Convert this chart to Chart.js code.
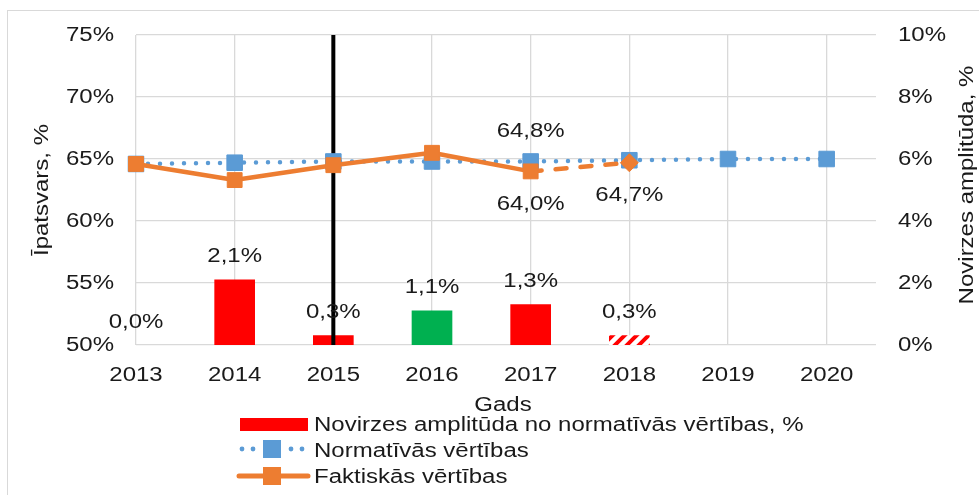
<!DOCTYPE html>
<html>
<head>
<meta charset="utf-8">
<script src="https://cdn.jsdelivr.net/npm/chart.js@4"></script>
<style>
    body { margin: 0; background: #fff; }
    #wrap { position: relative; width: 979px; height: 495px; overflow: hidden; }
    #frame { position: absolute; left: 7px; top: 10px; width: 1000px; height: 500px;
             border-left: 1px solid #d9d9d9; border-top: 1px solid #d9d9d9; }
    canvas { position: absolute; left: 0; top: 0; }
</style>
</head>
<body>
<div id="wrap">
    <div id="frame"></div>
    <canvas id="chart" width="979" height="495"></canvas>
</div>
<script>
// Data
const years = [2013, 2014, 2015, 2016, 2017, 2018, 2019, 2020];
const deviation = [0.0, 2.1, 0.3, 1.1, 1.3, 0.3];          // % (right axis)
const normative = [64.6, 64.7, 64.8, 64.8, 64.8, 64.9, 65.0, 65.0];
const actual = [64.6, 63.3, 64.5, 65.5, 64.0, 64.7];
const leftTicks = [50, 55, 60, 65, 70, 75];
const rightTicks = [0, 2, 4, 6, 8, 10];
const MARKER_YEAR = 2015;
const normLabelIdx = [4];
const actualLabelIdx = [4, 5];

const RED = '#FF0000';
const GREEN = '#00B050';
const BLUE = '#5B9BD5';
const ORANGE = '#ED7D31';
const FONT = '"Liberation Sans", Arial, sans-serif';
const TXT = '#1a1a1a';
const STRETCH = 1.2;   // the source text is set wider than plain Arial

Chart.defaults.font.family = FONT;
Chart.defaults.font.size = 20;
Chart.defaults.color = TXT;

// hatched fill for the forecast bar
function makeHatch() {
    const c = document.createElement('canvas');
    c.width = 12; c.height = 12;
    const g = c.getContext('2d');
    g.fillStyle = '#fff';
    g.fillRect(0, 0, 12, 12);
    g.strokeStyle = RED;
    g.lineWidth = 4;
    g.beginPath();
    g.moveTo(-3, 15); g.lineTo(15, -3);
    g.moveTo(-9, 9); g.lineTo(9, -9);
    g.moveTo(3, 21); g.lineTo(21, 3);
    g.stroke();
    return g.createPattern(c, 'repeat');
}
const hatch = makeHatch();
const barColors = [RED, RED, RED, GREEN, RED, hatch];

const fmt = v => v.toFixed(1).replace('.', ',') + '%';
const toPts = arr => arr.map((v, i) => ({ x: years[i], y: v }));

function text(ctx, str, x, y, align, rot) {
    ctx.save();
    ctx.translate(x, y);
    if (rot) ctx.rotate(rot);
    ctx.scale(STRETCH, 1);
    ctx.textAlign = align;
    ctx.fillText(str, 0, 0);
    ctx.restore();
}

// Tick labels, data labels, axis titles, marker line and legend
const decorPlugin = {
    id: 'decor',
    afterDatasetDraw(chart, args) {
        if (args.index !== 0) return;
        const ctx = chart.ctx;
        const xs = chart.scales.x.getPixelForValue(MARKER_YEAR);
        ctx.save();
        ctx.strokeStyle = '#000';
        ctx.lineWidth = 4;
        ctx.beginPath();
        ctx.moveTo(xs, chart.chartArea.top);
        ctx.lineTo(xs, chart.chartArea.bottom);
        ctx.stroke();
        ctx.restore();
    },
    afterDraw(chart) {
        const ctx = chart.ctx;
        const { x, y, y2 } = chart.scales;
        const area = chart.chartArea;
        ctx.save();
        ctx.font = '20px ' + FONT;
        ctx.fillStyle = TXT;
        ctx.textBaseline = 'middle';

        // tick labels
        y.ticks.forEach(t => text(ctx, t.value + '%', area.left - 22, y.getPixelForValue(t.value), 'right'));
        y2.ticks.forEach(t => text(ctx, t.value + '%', area.right + 22, y2.getPixelForValue(t.value), 'left'));
        x.ticks.forEach(t => text(ctx, String(t.value), x.getPixelForValue(t.value), area.bottom + 30, 'center'));

        // bar labels
        chart.getDatasetMeta(0).data.forEach((el, i) => {
            text(ctx, fmt(deviation[i]), el.x, el.y - 23, 'center');
        });
        // line labels
        const nMeta = chart.getDatasetMeta(1).data;
        normLabelIdx.forEach(i => text(ctx, fmt(normative[i]), nMeta[i].x, nMeta[i].y - 30, 'center'));
        const aMeta = chart.getDatasetMeta(2).data;
        actualLabelIdx.forEach(i => text(ctx, fmt(actual[i]), aMeta[i].x, aMeta[i].y + 33, 'center'));

        // axis titles
        text(ctx, 'Īpatsvars, %', 42, 190, 'center', -Math.PI / 2);
        text(ctx, 'Novirzes amplitūda, %', 967, 185, 'center', -Math.PI / 2);

        // x title
        ctx.textBaseline = 'alphabetic';
        text(ctx, 'Gads', 503, 411, 'center');

        // legend
        text(ctx, 'Novirzes amplitūda no normatīvās vērtības, %', 314, 431, 'left');
        text(ctx, 'Normatīvās vērtības', 314, 457, 'left');
        text(ctx, 'Faktiskās vērtības', 314, 483, 'left');

        ctx.fillStyle = RED;
        ctx.fillRect(240, 418, 68, 13);

        ctx.fillStyle = BLUE;
        [242, 253, 291, 302].forEach(px => {
            ctx.beginPath();
            ctx.arc(px, 449, 2.4, 0, Math.PI * 2);
            ctx.fill();
        });
        ctx.fillRect(263, 440, 18, 18);

        ctx.strokeStyle = ORANGE;
        ctx.lineWidth = 5;
        ctx.lineCap = 'round';
        ctx.beginPath();
        ctx.moveTo(239, 476);
        ctx.lineTo(308, 476);
        ctx.stroke();
        ctx.fillStyle = ORANGE;
        ctx.fillRect(263, 467, 18, 18);
        ctx.restore();
    }
};

new Chart(document.getElementById('chart'), {
    type: 'bar',
    data: {
        datasets: [
            {
                type: 'bar',
                label: 'Novirzes amplitūda no normatīvās vērtības, %',
                data: toPts(deviation),
                backgroundColor: c => deviation[c.dataIndex] === 0 ? 'rgba(0,0,0,0)' : barColors[c.dataIndex],
                barThickness: 40,
                yAxisID: 'y2',
                order: 3
            },
            {
                type: 'line',
                label: 'Normatīvās vērtības',
                data: toPts(normative),
                borderColor: BLUE,
                backgroundColor: BLUE,
                borderWidth: 4.5,
                borderDash: [0, 12],
                borderCapStyle: 'round',
                pointStyle: 'rect',
                pointRadius: 11,
                pointBorderWidth: 1,
                pointBorderColor: BLUE,
                yAxisID: 'y',
                clip: false,
                order: 2
            },
            {
                type: 'line',
                label: 'Faktiskās vērtības',
                data: toPts(actual),
                borderColor: ORANGE,
                backgroundColor: ORANGE,
                borderWidth: 4.5,
                borderCapStyle: 'round',
                borderJoinStyle: 'round',
                pointStyle: ['rect', 'rect', 'rect', 'rect', 'rect', 'rectRot'],
                pointRadius: [10.5, 10.5, 10.5, 10.5, 10.5, 9],
                pointBorderWidth: 1,
                pointBorderColor: ORANGE,
                segment: {
                    borderDash: c => c.p1DataIndex === actual.length - 1 ? [11, 14] : undefined
                },
                yAxisID: 'y',
                clip: false,
                order: 1
            }
        ]
    },
    options: {
        responsive: false,
        animation: false,
        layout: { padding: { top: 35, left: 0, right: 0, bottom: 0 } },
        plugins: {
            legend: { display: false },
            tooltip: { enabled: false }
        },
        scales: {
            x: {
                type: 'linear',
                offset: false,
                min: years[0],
                max: years[years.length - 1] + 0.5,
                afterBuildTicks: s => { s.ticks = years.map(v => ({ value: v })); },
                afterFit: s => { s.height = 150; },
                grid: { color: '#d9d9d9', lineWidth: 1.3, drawTicks: false, offset: false },
                border: { display: false },
                ticks: { display: false }
            },
            y: {
                position: 'left',
                min: 50,
                max: 75,
                afterBuildTicks: s => { s.ticks = leftTicks.map(v => ({ value: v })); },
                afterFit: s => { s.width = 136; },
                grid: { color: '#d9d9d9', lineWidth: 1.3, drawTicks: false },
                border: { display: false },
                ticks: { display: false }
            },
            y2: {
                position: 'right',
                min: 0,
                max: 10,
                afterBuildTicks: s => { s.ticks = rightTicks.map(v => ({ value: v })); },
                afterFit: s => { s.width = 103; },
                grid: { display: false, drawTicks: false },
                border: { display: false },
                ticks: { display: false }
            }
        }
    },
    plugins: [decorPlugin]
});
</script>
</body>
</html>
